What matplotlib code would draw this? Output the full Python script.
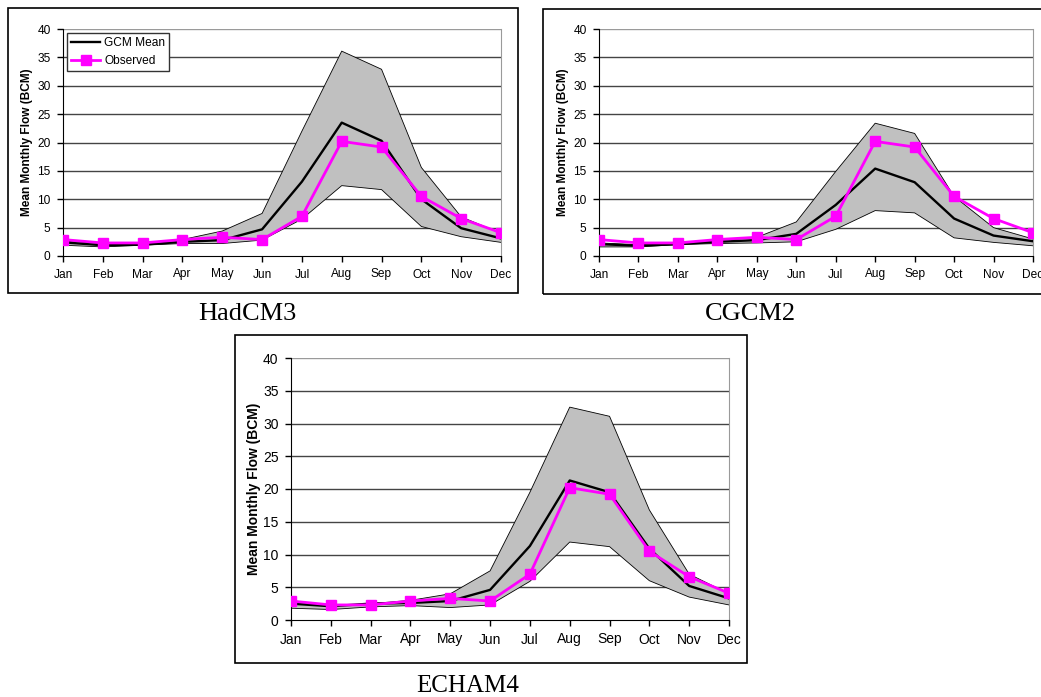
import matplotlib
matplotlib.use("Agg")
import matplotlib.pyplot as plt
from matplotlib.patches import Rectangle

months = ["Jan", "Feb", "Mar", "Apr", "May", "Jun", "Jul", "Aug", "Sep", "Oct", "Nov", "Dec"]
observed = [2.9, 2.3, 2.3, 2.9, 3.3, 2.9, 7.0, 20.2, 19.2, 10.5, 6.6, 4.1]

had_upper = [2.6, 2.2, 2.3, 2.9, 4.4, 7.5, 22.0, 36.1, 32.9, 15.6, 6.9, 4.0]
had_mean = [2.4, 1.9, 2.0, 2.5, 2.8, 4.7, 13.1, 23.5, 20.3, 10.0, 4.9, 3.1]
had_lower = [1.9, 1.6, 1.9, 2.2, 2.2, 2.8, 6.5, 12.4, 11.7, 5.2, 3.4, 2.4]

cg_upper = [2.3, 2.0, 2.2, 2.7, 3.3, 6.0, 14.9, 23.4, 21.6, 10.5, 5.0, 3.0]
cg_mean = [2.1, 1.8, 2.1, 2.5, 2.8, 3.9, 9.0, 15.4, 13.0, 6.6, 3.6, 2.6]
cg_lower = [1.6, 1.6, 2.0, 2.2, 2.3, 2.5, 4.7, 8.0, 7.6, 3.2, 2.4, 1.8]

ech_upper = [2.7, 2.2, 2.5, 3.0, 4.0, 7.5, 19.5, 32.5, 31.1, 16.8, 7.0, 4.0]
ech_mean = [2.5, 2.1, 2.5, 2.6, 2.9, 4.6, 11.3, 21.3, 19.5, 10.9, 5.2, 3.3]
ech_lower = [1.8, 1.6, 2.0, 2.2, 1.9, 2.3, 5.9, 11.9, 11.2, 6.0, 3.5, 2.3]

titles = ["HadCM3", "CGCM2", "ECHAM4"]
yticks = [0, 5, 10, 15, 20, 25, 30, 35, 40]

W, H = 1041, 697
fig = plt.figure(figsize=(W / 100, H / 100), dpi=100)
fig.patch.set_facecolor("white")

SANS = ["Liberation Sans", "DejaVu Sans"]
SERIF = ["Liberation Serif", "DejaVu Serif"]


def fig_rect(x0, y0, x1, y1):
    # pixel coords (top-left origin) -> figure fraction [l, b, w, h]
    return [x0 / W, 1 - y1 / H, (x1 - x0) / W, (y1 - y0) / H]


def panel(box, axbox, title, title_xy, upper, mean, lower, fs, title_fs, ms, legend=False):
    bx0, by0, bx1, by1 = box
    fig.patches.append(Rectangle((bx0 / W, 1 - by1 / H), (bx1 - bx0) / W, (by1 - by0) / H,
                                 transform=fig.transFigure, fill=False, edgecolor="black",
                                 linewidth=1.2, zorder=0))
    ax = fig.add_axes(fig_rect(*axbox))
    x = list(range(len(months)))
    ax.fill_between(x, lower, upper, facecolor="#c0c0c0", edgecolor="none", zorder=1)
    ax.plot(x, upper, color="black", lw=0.6, zorder=2)
    ax.plot(x, lower, color="black", lw=0.6, zorder=2)
    ax.plot(x, mean, color="black", lw=1.7, zorder=3, label="GCM Mean")
    ax.plot(x, observed, color="#ff00ff", lw=2.0, marker="s", markersize=ms,
            markeredgecolor="#ff00ff", zorder=4, label="Observed")
    ax.set_xlim(0, len(months) - 1)
    ax.set_ylim(0, 40)
    ax.set_yticks(yticks)
    ax.set_xticks(x)
    ax.set_xticklabels(months, fontsize=fs, family=SANS)
    ax.set_yticklabels([str(v) for v in yticks], fontsize=fs, family=SANS)
    for v in yticks[1:]:
        ax.axhline(v, color="#444444" if v < 40 else "#9a9a9a", lw=1.0, zorder=0.5)
    ax.spines["top"].set_visible(False)
    ax.spines["right"].set_color("#9a9a9a")
    ax.spines["left"].set_color("black")
    ax.spines["bottom"].set_color("black")
    ax.tick_params(axis="both", direction="out", length=4, width=1, colors="black", pad=5)
    ax.set_ylabel("Mean Monthly Flow (BCM)", fontsize=fs, fontweight="bold", family=SANS)
    ax.yaxis.set_label_coords(-30 / (axbox[2] - axbox[0]), 0.5)
    ax.set_facecolor("white")
    if legend:
        leg = ax.legend(loc="upper left", bbox_to_anchor=(0.0, 1.0), frameon=True,
                        fancybox=False, borderpad=0.35, handlelength=2.4, borderaxespad=0.35,
                        handletextpad=0.35, labelspacing=0.45, prop={"family": SANS, "size": fs})
        leg.get_frame().set_edgecolor("#333333")
        leg.get_frame().set_linewidth(1.0)
        leg.get_frame().set_alpha(1)
    fig.text(title_xy[0] / W, 1 - title_xy[1] / H, title, ha="center", va="center",
             fontsize=title_fs, family=SERIF)
    return ax


panel((8, 8, 518, 293), (63, 29, 501, 256), titles[0], (247, 314),
      had_upper, had_mean, had_lower, 8.6, 19, 6.5, legend=True)
panel((543, 9, 1060, 294), (599, 29, 1033, 256), titles[1], (750, 314),
      cg_upper, cg_mean, cg_lower, 8.6, 19, 6.5)
panel((235, 335, 747, 663), (291, 358, 729, 620), titles[2], (468, 686),
      ech_upper, ech_mean, ech_lower, 10, 18, 7.5)

fig.savefig("out.png", dpi=100, facecolor="white")
